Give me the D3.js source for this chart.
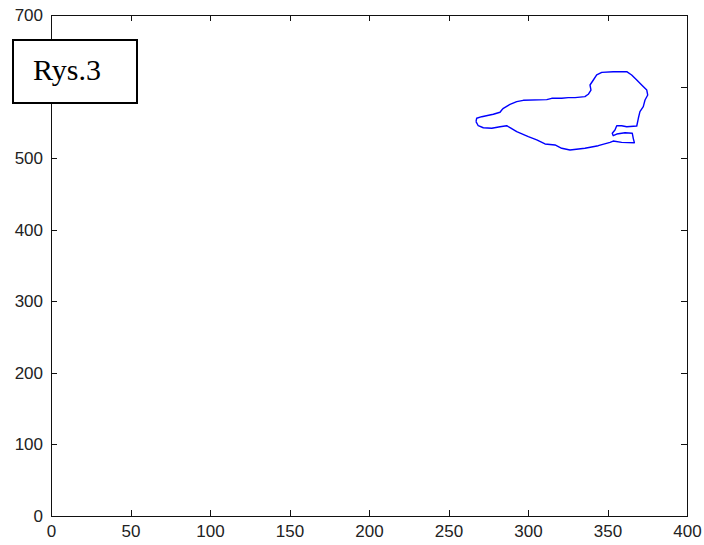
<!DOCTYPE html>
<html>
<head>
<meta charset="utf-8">
<script src="https://cdn.jsdelivr.net/npm/d3@7"></script>
<style>
  html, body { margin: 0; padding: 0; background: #fff; }
  svg { display: block; }
</style>
</head>
<body>
<svg id="chart" width="704" height="545"></svg>
<script>
// ---- data ----
const xTicks = [0, 50, 100, 150, 200, 250, 300, 350, 400];
const yTicks = [0, 100, 200, 300, 400, 500, 600, 700];
const hiddenYLabels = [600]; // covered by the "Rys.3" box in the reference
const outlineX = [267.3, 267.7, 270.9, 278.2, 282.4, 283.5, 284.5, 288.7, 292.9, 297.0,
  311.8, 314.9, 321.2, 325.3, 329.6, 335.8, 337.9, 339.6, 339.0, 341.1,
  343.2, 346.4, 353.6, 362.1, 365.2, 368.4, 371.5, 374.7, 375.3, 373.6,
  372.5, 370.4, 369.4, 368.4, 362.1, 358.9, 355.8, 354.7, 353.0, 353.6,
  355.8, 361.0, 365.6, 366.2, 366.9, 358.9, 353.6, 351.6, 344.2, 335.8,
  326.4, 321.2, 317.0, 310.7, 305.5, 300.2, 292.9, 288.7, 286.6, 282.4,
  277.2, 271.9, 268.7, 267.3];
const outlineY = [550.9, 555.7, 557.9, 561.3, 564.1, 567.3, 569.6, 575.2, 578.9, 580.8,
  581.7, 583.6, 583.6, 584.5, 584.5, 585.9, 589.2, 595.2, 602.2, 609.2,
  616.2, 619.9, 620.8, 620.8, 616.2, 609.2, 602.2, 595.2, 588.2, 581.2,
  571.9, 564.9, 555.7, 544.9, 543.9, 545.3, 545.3, 539.3, 534.7, 531.4,
  533.7, 535.5, 534.7, 527.7, 521.6, 522.1, 523.9, 522.1, 517.4, 513.8,
  511.4, 513.8, 518.4, 519.8, 525.4, 530.0, 537.0, 542.5, 545.3, 543.9,
  541.7, 542.5, 545.3, 550.9];
const labelText = "Rys.3";

// ---- layout ----
const svg = d3.select("#chart");
const L = 51, R = 687, T = 15, B = 516;
const x = d3.scaleLinear().domain([0, 400]).range([L, R]);
const y = d3.scaleLinear().domain([0, 700]).range([B, T]);
const tickLen = 6;
const labelFont = "'Liberation Sans', Arial, sans-serif";

// bottom axis
const gB = svg.append("g").attr("transform", `translate(0,${B})`)
  .call(d3.axisBottom(x).tickValues(xTicks).tickSizeInner(-tickLen).tickSizeOuter(0).tickPadding(9));
// left axis
const gL = svg.append("g").attr("transform", `translate(${L},0)`)
  .call(d3.axisLeft(y).tickValues(yTicks).tickSizeInner(-tickLen).tickSizeOuter(0).tickPadding(8)
    .tickFormat(d => hiddenYLabels.includes(d) ? "" : d));
// top axis (ticks only)
const gT = svg.append("g").attr("transform", `translate(0,${T})`)
  .call(d3.axisTop(x).tickValues(xTicks).tickSizeInner(-tickLen).tickSizeOuter(0).tickFormat(""));
// right axis (ticks only)
const gR = svg.append("g").attr("transform", `translate(${R},0)`)
  .call(d3.axisRight(y).tickValues(yTicks).tickSizeInner(-tickLen).tickSizeOuter(0).tickFormat(""));

[gB, gL, gT, gR].forEach(g => {
  g.selectAll(".domain").remove();
  g.selectAll(".tick line").attr("stroke", "#111").attr("shape-rendering", "crispEdges");
  g.selectAll(".tick text").attr("fill", "#222")
    .style("font-family", labelFont).style("font-size", "17px");
});
gL.selectAll(".tick text").filter(function() { return this.textContent === ""; }).remove();
gT.selectAll(".tick text").remove();
gR.selectAll(".tick text").remove();

// frame
svg.append("rect")
  .attr("x", L).attr("y", T).attr("width", R - L).attr("height", B - T)
  .attr("fill", "none").attr("stroke", "#111").attr("stroke-width", 1)
  .attr("shape-rendering", "crispEdges");

// outline
const pts = outlineX.map((v, i) => [v, outlineY[i]]);
svg.append("path")
  .datum(pts)
  .attr("d", d3.line().x(d => x(d[0])).y(d => y(d[1])))
  .attr("fill", "none").attr("stroke", "#0000ff").attr("stroke-width", 1.4)
  .attr("stroke-linejoin", "round");

// label box
svg.append("rect")
  .attr("x", 13).attr("y", 40).attr("width", 124).attr("height", 63)
  .attr("fill", "#fff").attr("stroke", "#000").attr("stroke-width", 2);
svg.append("text")
  .attr("x", 33).attr("y", 80)
  .style("font-family", "'Liberation Serif', 'Times New Roman', serif")
  .style("font-size", "30px").attr("fill", "#000")
  .text(labelText);
</script>
</body>
</html>
